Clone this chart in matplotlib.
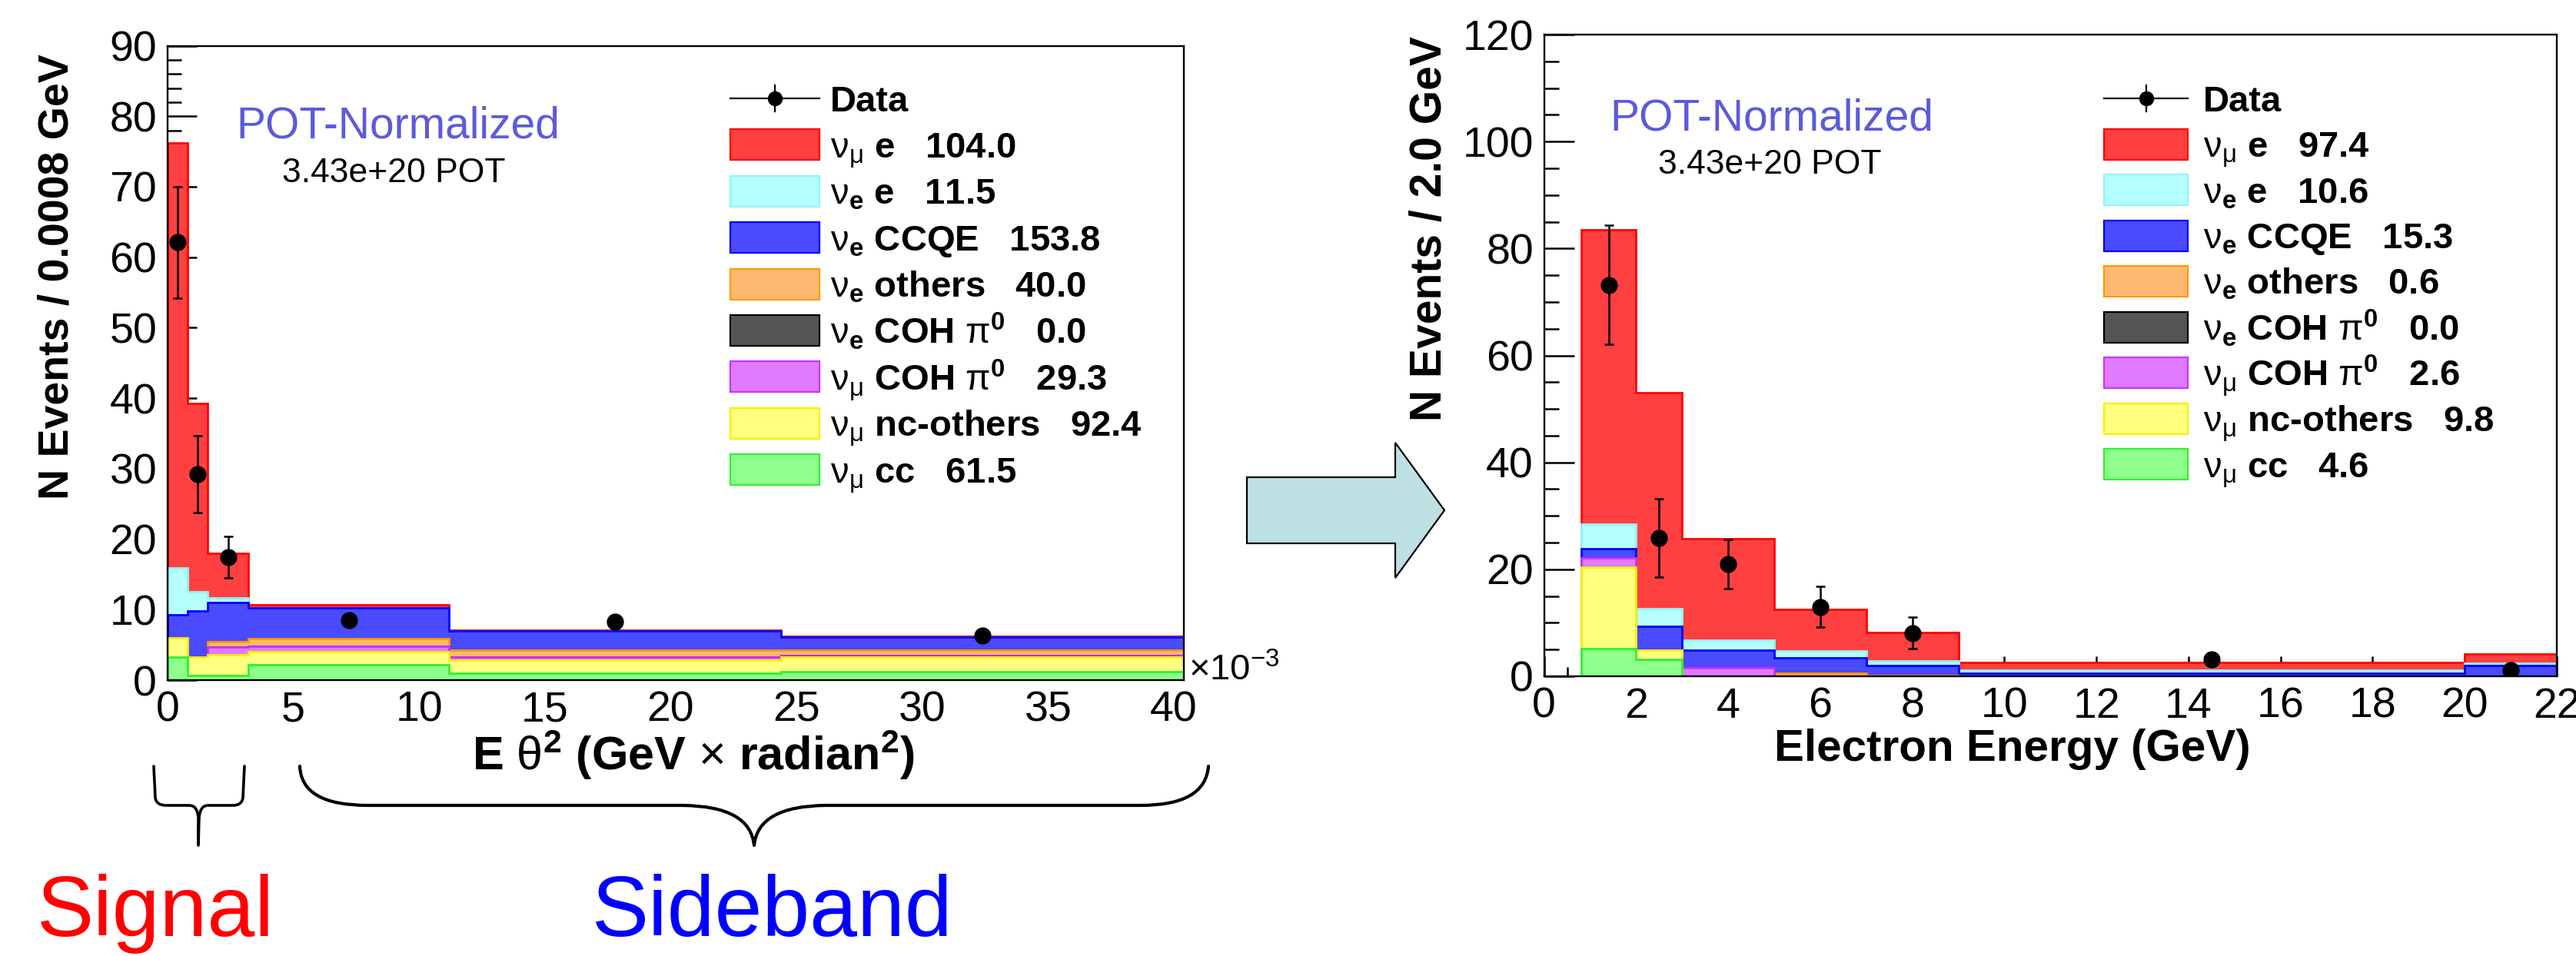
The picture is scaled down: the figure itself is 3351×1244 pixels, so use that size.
import numpy as np
import matplotlib
matplotlib.use('Agg')
import matplotlib.pyplot as plt
from matplotlib.patches import Rectangle, Polygon, PathPatch
from matplotlib.path import Path
from matplotlib.lines import Line2D
from matplotlib.transforms import Affine2D
from matplotlib.ticker import MultipleLocator

plt.rcParams['font.family'] = ['Liberation Sans', 'DejaVu Sans']
plt.rcParams['mathtext.fontset'] = 'custom'
plt.rcParams['mathtext.rm'] = 'Liberation Sans'
plt.rcParams['mathtext.it'] = 'Liberation Sans:italic'
plt.rcParams['mathtext.bf'] = 'Liberation Sans:bold'

# ---------------- data ----------------
# left: E theta^2 (units of 1e-3 GeV rad^2)
left_edges = [0, 0.8, 1.6, 3.2, 11.2, 24.4, 40.4]
left_numu_cc = [3.25, 0.6, 0.7, 2.2, 1.0, 1.2]
left_numu_nc = [2.75, 2.7, 2.9, 1.8, 1.8, 2.05]
left_numu_coh = [0.0, 0.0, 1.1, 0.75, 0.5, 0.25]
left_nue_coh = [0.0, 0.0, 0.0, 0.0, 0.0, 0.0]
left_nue_oth = [0.0, 0.0, 0.8, 1.15, 0.9, 0.7]
left_nue_ccqe = [3.3, 6.5, 5.5, 4.35, 2.8, 1.9]
left_nue_e = [6.6, 2.7, 0.7, 0.0, 0.0, 0.0]
left_numu_e = [60.3, 26.7, 6.3, 0.45, 0.1, 0.1]
left_data_x = [0.4, 1.2, 2.4, 7.2, 17.8, 32.4]
left_data_y = [62.1, 29.2, 17.4, 8.5, 8.3, 6.3]
left_data_err = [7.9, 5.45, 2.95, 0.92, 0.71, 0.56]
left_totals = [104.0, 11.5, 153.8, 40.0, 0.0, 29.3, 92.4, 61.5]

# right: electron energy (GeV)
right_edges = [0.8, 2, 3, 5, 7, 9, 20, 22]
right_numu_cc = [5.2, 3.2, 0, 0, 0, 0, 0]
right_numu_nc = [15.2, 1.65, 0, 0, 0, 0, 0]
right_numu_coh = [1.8, 0, 1.6, 0, 0, 0, 0]
right_nue_coh = [0, 0, 0, 0, 0, 0, 0]
right_nue_oth = [0, 0, 0, 0.6, 0.1, 0, 0]
right_nue_ccqe = [1.7, 4.55, 3.25, 2.9, 1.9, 0.6, 2.0]
right_nue_e = [4.5, 3.2, 1.95, 1.3, 0.9, 0.5, 0.4]
right_numu_e = [55.1, 40.4, 18.9, 7.7, 5.3, 1.55, 1.8]
right_data_x = [1.4, 2.5, 4.0, 6.0, 8.0, 14.5, 21.0]
right_data_y = [73.2, 25.9, 21.0, 13.0, 8.1, 3.2, 1.1]
right_data_err = [11.1, 7.3, 4.55, 3.75, 2.95, 0.76, 1.0]
right_totals = [97.4, 10.6, 15.3, 0.6, 0.0, 2.6, 9.8, 4.6]

# legend order (top to bottom)
nm_mu = r'$\mathrm{\nu}_{\mathrm{\mu}}$'
nm_e = r'$\mathrm{\nu}_{\mathbf{e}}$'
pi0 = r'$\mathrm{\pi}^{\mathbf{0}}$'
legend_names = [nm_mu + ' e', nm_e + ' e', nm_e + ' CCQE', nm_e + ' others',
                nm_e + ' COH ' + pi0, nm_mu + ' COH ' + pi0,
                nm_mu + ' nc-others', nm_mu + ' cc']
face_colors = ['#ff4040', '#b5ffff', '#4a4aff', '#ffb870', '#555555', '#e07aff', '#ffff80', '#8cff8c']
edge_colors = ['#ff0000', '#8ff5f5', '#0000ff', '#ff9900', '#000000', '#cc33ff', '#f2f200', '#33ee33']

W, H = 3351, 1244
fig = plt.figure(figsize=(W / 100, H / 100), dpi=100)
PX = Affine2D().scale(1.0 / W, -1.0 / H).translate(0, 1) + fig.transFigure


def fx(x):
    return x / W


def fy(y):
    return 1 - y / H


def make_axes(x0, x1, ytop, ybot):
    return fig.add_axes([fx(x0), fy(ybot), (x1 - x0) / W, (ybot - ytop) / H])


def draw_stack(ax, edges, comps_legend_order):
    # comps given top->bottom (legend order); stack bottom->top
    stack = np.array(comps_legend_order[::-1], dtype=float)
    cum = np.cumsum(stack, axis=0)
    n = len(comps_legend_order)
    for k in range(n - 1, -1, -1):
        li = n - 1 - k  # legend index
        ax.stairs(cum[k], edges, baseline=0, fill=True,
                  facecolor=face_colors[li], edgecolor=edge_colors[li],
                  linewidth=2.0, zorder=2 + (n - k) * 0.01)


def style_axes(ax, xmaj, xmin, ymaj, ymin, ylen, xlen):
    for s in ax.spines.values():
        s.set_linewidth(1.7)
        s.set_color('black')
    ax.xaxis.set_major_locator(MultipleLocator(xmaj))
    ax.xaxis.set_minor_locator(MultipleLocator(xmin))
    ax.yaxis.set_major_locator(MultipleLocator(ymaj))
    ax.yaxis.set_minor_locator(MultipleLocator(ymin))
    ax.tick_params(axis='both', which='both', direction='in', top=False, right=False,
                   width=1.8, colors='black', labelsize=40, pad=10)
    ax.tick_params(axis='y', which='major', length=ylen[0])
    ax.tick_params(axis='y', which='minor', length=ylen[1])
    ax.tick_params(axis='x', which='major', length=xlen[0])
    ax.tick_params(axis='x', which='minor', length=xlen[1])


def draw_legend(sw_x0, sw_x1, text_x, row0, drow, totals):
    # Data entry
    xm = 0.5 * (sw_x0 + sw_x1)
    fig.add_artist(Line2D([fx(sw_x0), fx(sw_x1)], [fy(row0), fy(row0)], color='black', lw=1.6))
    fig.add_artist(Line2D([fx(xm), fx(xm)], [fy(row0 - 17), fy(row0 + 17)], color='black', lw=1.6))
    fig.add_artist(Line2D([fx(xm)], [fy(row0)], marker='o', ms=13, color='black', lw=0))
    fig.text(fx(text_x), fy(row0 + 17), 'Data', fontsize=34, fontweight='bold', va='baseline', ha='left')
    for i, (name, tot) in enumerate(zip(legend_names, totals)):
        rc = row0 + drow * (i + 1)
        r = Rectangle((fx(sw_x0), fy(rc + 20)), (sw_x1 - sw_x0) / W, 40 / H,
                      transform=fig.transFigure, facecolor=face_colors[i],
                      edgecolor=edge_colors[i], lw=1.6)
        fig.add_artist(r)
        fig.text(fx(text_x), fy(rc + 17), name + '   ' + f'{tot:.1f}', fontsize=34,
                 fontweight='bold', va='baseline', ha='left')


# ---------------- left panel ----------------
axL = make_axes(218, 1540, 59.5, 885)
left_comps = [left_numu_e, left_nue_e, left_nue_ccqe, left_nue_oth, left_nue_coh,
              left_numu_coh, left_numu_nc, left_numu_cc]
draw_stack(axL, left_edges, left_comps)
axL.errorbar(left_data_x, left_data_y, yerr=left_data_err, fmt='o', color='black',
             ms=15, elinewidth=1.8, capsize=4.5, capthick=1.8, zorder=10)
axL.set_xlim(0, 40.4)
axL.set_ylim(0, 90)
style_axes(axL, 5, 1, 10, 2, (27, 13), (19, 10))

# ---------------- right panel ----------------
axR = make_axes(2008.7, 3326, 45, 880)
right_comps = [right_numu_e, right_nue_e, right_nue_ccqe, right_nue_oth, right_nue_coh,
               right_numu_coh, right_numu_nc, right_numu_cc]
draw_stack(axR, right_edges, right_comps)
axR.errorbar(right_data_x, right_data_y, yerr=right_data_err, fmt='o', color='black',
             ms=15, elinewidth=1.8, capsize=4.5, capthick=1.8, zorder=10)
axR.set_xlim(0, 22)
axR.set_ylim(0, 120)
style_axes(axR, 2, 0.5, 20, 5, (28, 14), (19, 9))

# ---------------- texts ----------------
fig.text(fx(75), fy(70), 'N Events / 0.0008 GeV', rotation=90, ha='center', va='top',
         fontsize=40, fontweight='bold')
fig.text(fx(1860), fy(47), 'N Events / 2.0 GeV', rotation=90, ha='center', va='top',
         fontsize=41, fontweight='bold')
fig.text(fx(902), fy(1002), r'E $\mathrm{\theta}^{\mathbf{2}}$ (GeV $\mathrm{\times}$ radian$^{\mathbf{2}}$)',
         ha='center', va='baseline', fontsize=44, fontweight='bold')
fig.text(fx(2618), fy(990), 'Electron Energy (GeV)', ha='center', va='baseline',
         fontsize=42, fontweight='bold')
fig.text(fx(1546), fy(885), r'$\mathrm{\times}$10$^{\mathrm{-3}}$', ha='left', va='baseline', fontsize=34)

pot_color = '#5b5bdb'
fig.text(fx(307), fy(180), 'POT-Normalized', color=pot_color, fontsize=41, va='baseline')
fig.text(fx(367), fy(237), '3.43e+20 POT', color='black', fontsize=32, va='baseline')
fig.text(fx(2094), fy(170), 'POT-Normalized', color=pot_color, fontsize=41, va='baseline')
fig.text(fx(2157), fy(226), '3.43e+20 POT', color='black', fontsize=32, va='baseline')

draw_legend(950, 1066, 1080, 128, 60.4, left_totals)
draw_legend(2737, 2846, 2866, 128, 59.5, right_totals)

# ---------------- arrow ----------------
arrow_pts = [(1622, 621), (1815, 621), (1815, 576), (1879, 664), (1815, 752), (1815, 707), (1622, 707)]
fig.add_artist(Polygon(arrow_pts, closed=True, transform=PX, facecolor='#bde0e3',
                       edgecolor='black', lw=1.6))

# ---------------- braces ----------------
sig_verts = [(200, 997), (202, 1038), (203, 1048), (216, 1048), (246, 1048), (257, 1048), (258, 1064),
             (258, 1100), (259, 1064), (260, 1048), (271, 1048), (303, 1048), (315, 1048), (316, 1038),
             (318, 997)]
sig_codes = [Path.MOVETO, Path.LINETO, Path.CURVE3, Path.CURVE3, Path.LINETO, Path.CURVE3, Path.CURVE3,
             Path.LINETO, Path.LINETO, Path.CURVE3, Path.CURVE3, Path.LINETO, Path.CURVE3, Path.CURVE3,
             Path.LINETO]
fig.add_artist(PathPatch(Path(sig_verts, sig_codes), transform=PX, facecolor='none',
                         edgecolor='black', lw=2.6, capstyle='round', joinstyle='round'))

sb_verts = [(390, 997), (392, 1048), (478, 1048), (888, 1048), (976, 1049), (981, 1100),
            (986, 1049), (1074, 1048), (1484, 1048), (1568, 1048), (1572, 997)]
sb_codes = [Path.MOVETO, Path.CURVE3, Path.CURVE3, Path.LINETO, Path.CURVE3, Path.CURVE3,
            Path.CURVE3, Path.CURVE3, Path.LINETO, Path.CURVE3, Path.CURVE3]
fig.add_artist(PathPatch(Path(sb_verts, sb_codes), transform=PX, facecolor='none',
                         edgecolor='black', lw=3.0, capstyle='round', joinstyle='round'))

fig.text(fx(48), fy(1218), 'Signal', color='#ff0000', fontsize=80, va='baseline', ha='left')
fig.text(fx(770), fy(1218), 'Sideband', color='#0000ff', fontsize=80, va='baseline', ha='left')

fig.savefig('out.png', dpi=100)
